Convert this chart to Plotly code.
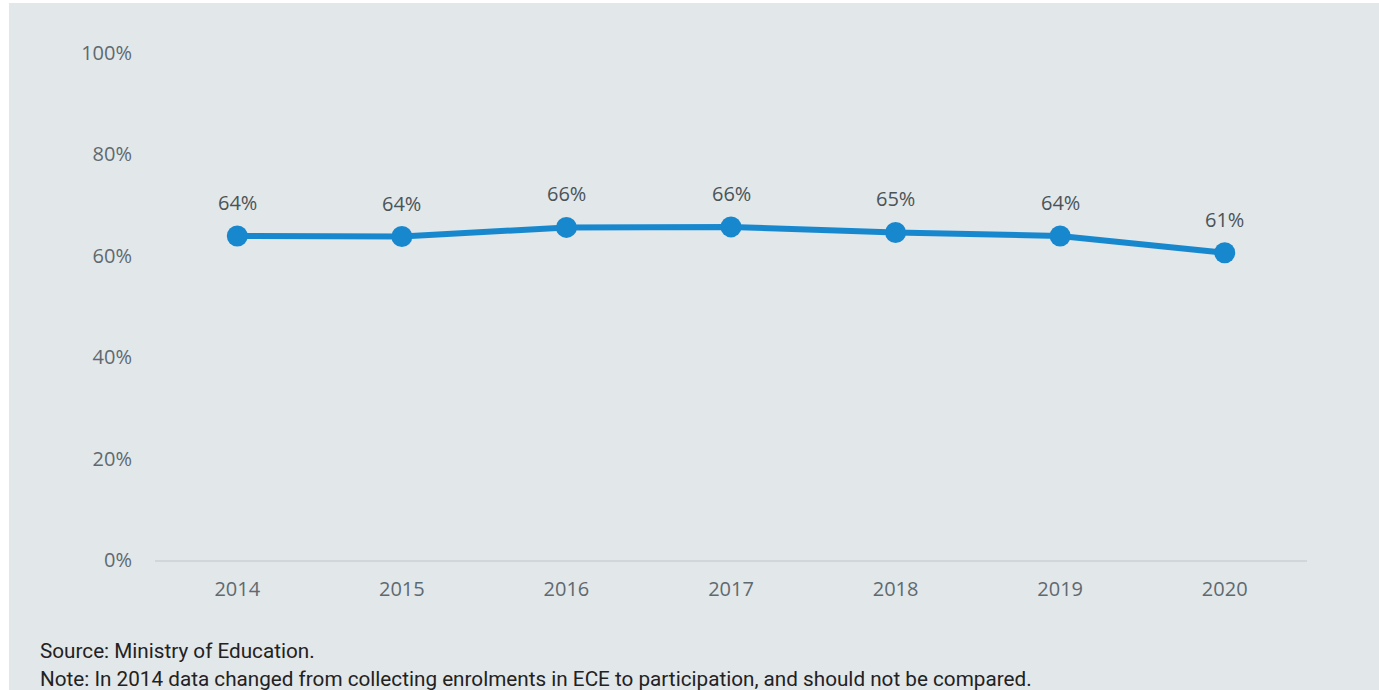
import plotly.graph_objects as go

years = ["2014", "2015", "2016", "2017", "2018", "2019", "2020"]
values = [63.9, 63.8, 65.6, 65.7, 64.6, 63.9, 60.6]
labels = ["64%", "64%", "66%", "66%", "65%", "64%", "61%"]
y_ticks = [0, 20, 40, 60, 80, 100]
y_tick_text = ["0%", "20%", "40%", "60%", "80%", "100%"]

BG = "#E2E7EA"
LINE = "#1888CE"
TICK = "#5E6A70"
LABEL = "#4A5458"

fig = go.Figure()
fig.add_trace(go.Scatter(
    x=years, y=values, mode="lines+markers",
    line=dict(color=LINE, width=6),
    marker=dict(color=LINE, size=21),
    hoverinfo="skip", showlegend=False,
))

annotations = []
for i, (v, lab) in enumerate(zip(values, labels)):
    annotations.append(dict(
        x=i, y=v, xref="x", yref="y", text=lab, showarrow=False,
        yanchor="bottom", yshift=18,
        font=dict(family="Open Sans", size=20, color=LABEL),
    ))

annotations.append(dict(
    x=(38 - 155) / 1152, y=(560 - 651) / 507, xref="paper", yref="paper",
    xanchor="left", yanchor="middle",
    text="Source: Ministry of Education.", showarrow=False,
    font=dict(family="Roboto", size=20.7, color="#222222"),
))
annotations.append(dict(
    x=(38 - 155) / 1152, y=(560 - 679) / 507, xref="paper", yref="paper",
    xanchor="left", yanchor="middle",
    text="Note: In 2014 data changed from collecting enrolments in ECE to participation, and should not be compared.",
    showarrow=False,
    font=dict(family="Roboto", size=20.7, color="#222222"),
))

shapes = [dict(
    type="rect", xref="paper", yref="paper",
    x0=(9 - 155) / 1152, x1=(1379 - 155) / 1152,
    y0=(560 - 690) / 507, y1=(560 - 3) / 507,
    fillcolor=BG, line=dict(width=0), layer="below",
)]

fig.update_layout(
    width=1379, height=690,
    margin=dict(l=155, r=72, t=53, b=130),
    paper_bgcolor="white", plot_bgcolor=BG,
    annotations=annotations, shapes=shapes,
    xaxis=dict(
        type="category", range=[-0.5, 6.5],
        showgrid=False, zeroline=False,
        showline=True, linecolor="#D0D6DA", linewidth=2,
        ticks="outside", ticklen=10, tickcolor="rgba(0,0,0,0)",
        tickfont=dict(family="Open Sans", size=20, color=TICK),
        fixedrange=True,
    ),
    yaxis=dict(
        range=[0, 100], tickvals=y_ticks, ticktext=y_tick_text,
        showgrid=False, zeroline=False, showline=False,
        ticks="outside", ticklen=18, tickcolor="rgba(0,0,0,0)",
        tickfont=dict(family="Open Sans", size=20, color=TICK),
        fixedrange=True,
    ),
)

fig.write_html("out.html", config={"displayModeBar": False},
               post_script="document.body.style.margin='0';")
